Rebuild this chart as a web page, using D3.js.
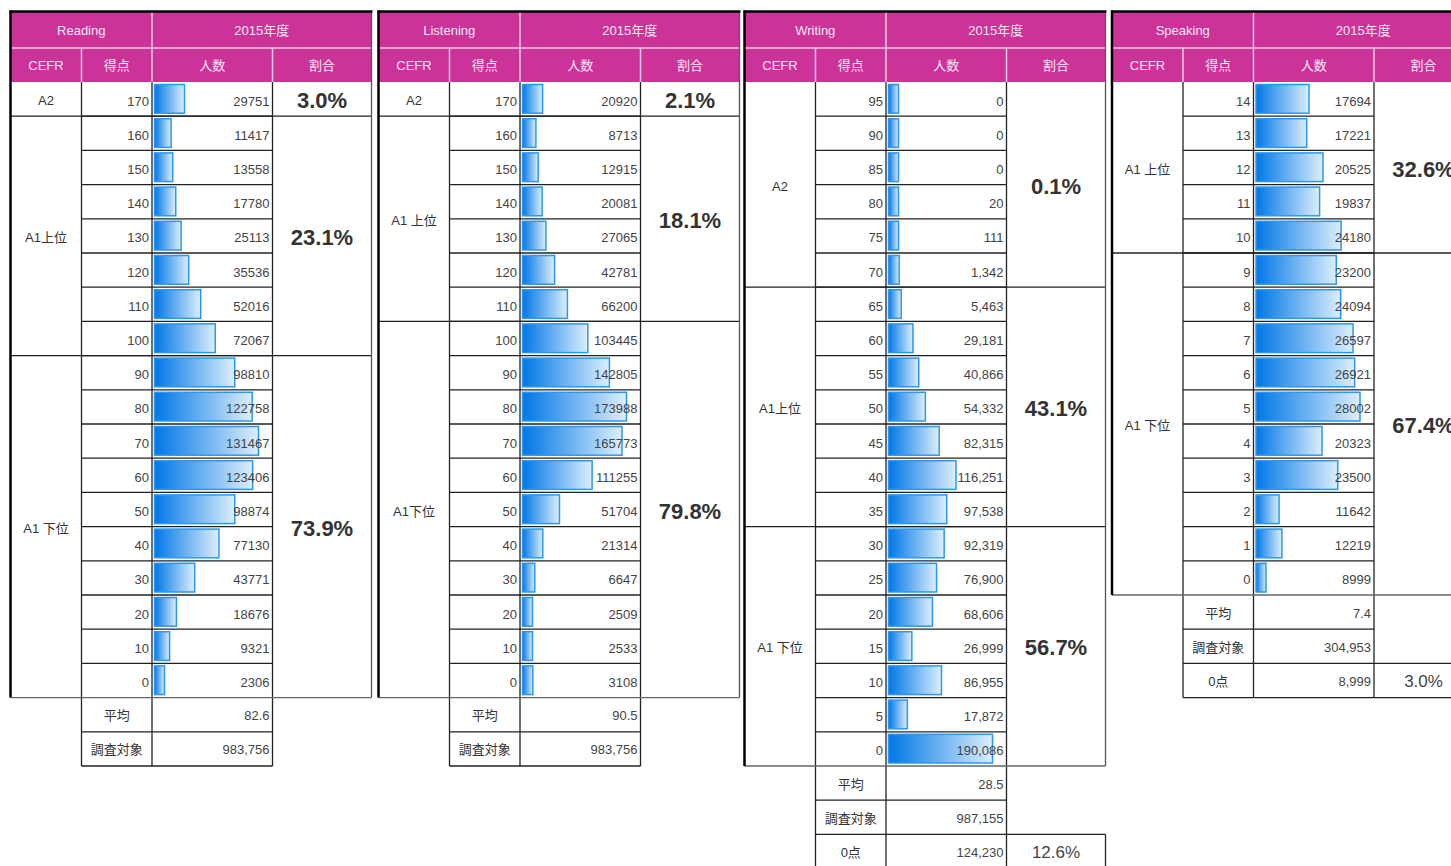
<!DOCTYPE html>
<html>
<head>
<meta charset="utf-8">
<script src="https://d3js.org/d3.v7.min.js"></script>
<style>
  body { margin: 0; background: white; }
  svg { display: block; background: white; }
</style>
</head>
<body>
<svg id="chart" width="1451" height="866"></svg>
<script>
const readingScores = [170, 160, 150, 140, 130, 120, 110, 100, 90, 80, 70, 60, 50, 40, 30, 20, 10, 0];
const readingCounts = [29751, 11417, 13558, 17780, 25113, 35536, 52016, 72067, 98810, 122758, 131467, 123406, 98874, 77130, 43771, 18676, 9321, 2306];
const readingCefr = ["A2", "A1上位", "A1 下位"];
const readingGroupRows = [1, 7, 10];
const readingShare = ["3.0%", "23.1%", "73.9%"];

const listeningScores = [170, 160, 150, 140, 130, 120, 110, 100, 90, 80, 70, 60, 50, 40, 30, 20, 10, 0];
const listeningCounts = [20920, 8713, 12915, 20081, 27065, 42781, 66200, 103445, 142805, 173988, 165773, 111255, 51704, 21314, 6647, 2509, 2533, 3108];
const listeningCefr = ["A2", "A1 上位", "A1下位"];
const listeningGroupRows = [1, 6, 11];
const listeningShare = ["2.1%", "18.1%", "79.8%"];

const writingScores = [95, 90, 85, 80, 75, 70, 65, 60, 55, 50, 45, 40, 35, 30, 25, 20, 15, 10, 5, 0];
const writingCounts = [0, 0, 0, 20, 111, 1342, 5463, 29181, 40866, 54332, 82315, 116251, 97538, 92319, 76900, 68606, 26999, 86955, 17872, 190086];
const writingCefr = ["A2", "A1上位", "A1 下位"];
const writingGroupRows = [6, 7, 7];
const writingShare = ["0.1%", "43.1%", "56.7%"];

const speakingScores = [14, 13, 12, 11, 10, 9, 8, 7, 6, 5, 4, 3, 2, 1, 0];
const speakingCounts = [17694, 17221, 20525, 19837, 24180, 23200, 24094, 26597, 26921, 28002, 20323, 23500, 11642, 12219, 8999];
const speakingCefr = ["A1 上位", "A1 下位"];
const speakingGroupRows = [5, 10];
const speakingShare = ["32.6%", "67.4%"];

// summary rows: [平均, 調査対象], optional 0点 [count, share]
const meanValues = ["82.6", "90.5", "28.5", "7.4"];
const totalValues = ["983,756", "983,756", "987,155", "304,953"];
const zeroRows = [null, null, ["124,230", "12.6%"], ["8,999", "3.0%"]];

const titles = ["Reading", "Listening", "Writing", "Speaking"];
const headYear = "2015年度";
const headCols = ["CEFR", "得点", "人数", "割合"];

const panels = [
  { title: titles[0], x0: 10.5, scores: readingScores, counts: readingCounts, cefr: readingCefr, groups: readingGroupRows, share: readingShare, comma: false },
  { title: titles[1], x0: 378.5, scores: listeningScores, counts: listeningCounts, cefr: listeningCefr, groups: listeningGroupRows, share: listeningShare, comma: false },
  { title: titles[2], x0: 744.5, scores: writingScores, counts: writingCounts, cefr: writingCefr, groups: writingGroupRows, share: writingShare, comma: true },
  { title: titles[3], x0: 1112, scores: speakingScores, counts: speakingCounts, cefr: speakingCefr, groups: speakingGroupRows, share: speakingShare, comma: false }
];
panels.forEach((p, i) => { p.mean = meanValues[i]; p.total = totalValues[i]; p.zero = zeroRows[i]; });

const svg = d3.select("#chart");
const pink = "#cc3399";
const numFont = "'Liberation Sans', Arial, sans-serif";
const jpFont = "'Liberation Sans', 'Noto Sans CJK JP', sans-serif";
const rowH = 34.2, tableTop = 82;
const cols = [0, 71, 141.5, 262, 361];

const defs = svg.append("defs");
const grad = defs.append("linearGradient").attr("id", "barGrad")
  .attr("x1", "0").attr("x2", "1").attr("y1", "0").attr("y2", "0");
grad.append("stop").attr("offset", "0").attr("stop-color", "#0077e6");
grad.append("stop").attr("offset", "1").attr("stop-color", "#dceefc");

function drawPanel(p) {
  const g = svg.append("g").attr("transform", `translate(${p.x0},0)`);
  const n = p.scores.length;
  const y = d3.scaleLinear().domain([0, n]).range([tableTop, tableTop + n * rowH]);
  const w = d3.scaleLinear().domain(d3.extent(p.counts)).range([10, 104]);
  const fmt = p.comma ? d3.format(",") : d3.format("d");
  const bottom = y(n);
  const nExtra = p.zero ? 3 : 2;

  // header
  g.append("rect").attr("x", 0).attr("y", 12).attr("width", cols[4]).attr("height", tableTop - 12).attr("fill", pink);
  const hl = "#f5c8e6";
  g.append("line").attr("x1", 0).attr("x2", cols[4]).attr("y1", 48).attr("y2", 48).attr("stroke", hl).attr("stroke-width", 1.5);
  g.append("line").attr("x1", cols[2]).attr("x2", cols[2]).attr("y1", 12).attr("y2", tableTop).attr("stroke", hl).attr("stroke-width", 1.5);
  [cols[1], cols[3]].forEach(cx => {
    g.append("line").attr("x1", cx).attr("x2", cx).attr("y1", 48).attr("y2", tableTop).attr("stroke", hl).attr("stroke-width", 1.5);
  });
  const headText = (txt, cx, cy) => g.append("text").attr("x", cx).attr("y", cy)
    .attr("text-anchor", "middle").attr("font-family", jpFont).attr("font-size", 13)
    .attr("fill", "#fbe8f4").text(txt);
  headText(p.title, (cols[0] + cols[2]) / 2, 35);
  headText(headYear, (cols[2] + cols[4]) / 2, 35);
  headCols.forEach((c, i) => headText(c, (cols[i] + cols[i + 1]) / 2, 70));

  // bars
  g.selectAll("rect.bar").data(p.counts).enter().append("rect")
    .attr("class", "bar")
    .attr("x", cols[2] + 2.5)
    .attr("y", (d, i) => y(i) + 2.5)
    .attr("width", d => w(d))
    .attr("height", rowH - 5.5)
    .attr("fill", "url(#barGrad)")
    .attr("stroke", "#2a98f2")
    .attr("stroke-width", 1.5);

  // row lines inside 得点/人数
  const gridCol = "#222";
  d3.range(1, n).forEach(i => {
    g.append("line").attr("x1", cols[1]).attr("x2", cols[3]).attr("y1", y(i)).attr("y2", y(i))
      .attr("stroke", gridCol).attr("stroke-width", 1.3);
  });
  // group boundaries across the full width
  let acc = 0;
  p.groups.forEach((k, gi) => {
    const y0 = y(acc), y1 = y(acc + k);
    if (acc > 0) {
      g.append("line").attr("x1", 0).attr("x2", cols[4]).attr("y1", y0).attr("y2", y0)
        .attr("stroke", gridCol).attr("stroke-width", 1.3);
    }
    const cy = (y0 + y1) / 2;
    g.append("text").attr("x", (cols[0] + cols[1]) / 2).attr("y", cy + 6)
      .attr("text-anchor", "middle").attr("font-family", jpFont).attr("font-size", 13)
      .attr("fill", "#333").text(p.cefr[gi]);
    g.append("text").attr("x", (cols[3] + cols[4]) / 2).attr("y", cy + 9)
      .attr("text-anchor", "middle").attr("font-family", numFont).attr("font-size", 22)
      .attr("font-weight", "bold").attr("fill", "#333").text(p.share[gi]);
    acc += k;
  });

  // vertical lines
  const extraBottom = y(n + nExtra);
  g.append("line").attr("x1", cols[1]).attr("x2", cols[1]).attr("y1", tableTop).attr("y2", extraBottom).attr("stroke", gridCol).attr("stroke-width", 1.3);
  g.append("line").attr("x1", cols[2]).attr("x2", cols[2]).attr("y1", tableTop).attr("y2", extraBottom).attr("stroke", gridCol).attr("stroke-width", 1.3);
  g.append("line").attr("x1", cols[3]).attr("x2", cols[3]).attr("y1", tableTop).attr("y2", extraBottom).attr("stroke", gridCol).attr("stroke-width", 1.3);
  g.append("line").attr("x1", cols[4]).attr("x2", cols[4]).attr("y1", 12).attr("y2", bottom).attr("stroke", "#555").attr("stroke-width", 1.3);

  // score and count text
  g.selectAll("text.score").data(p.scores).enter().append("text")
    .attr("class", "score").attr("x", cols[2] - 3).attr("y", (d, i) => y(i) + 23.5)
    .attr("text-anchor", "end").attr("font-family", numFont).attr("font-size", 13)
    .attr("fill", "#444").text(d => d);
  g.selectAll("text.count").data(p.counts).enter().append("text")
    .attr("class", "count").attr("x", cols[3] - 3).attr("y", (d, i) => y(i) + 23.5)
    .attr("text-anchor", "end").attr("font-family", numFont).attr("font-size", 13)
    .attr("fill", "#444").text(d => fmt(d));

  // summary rows
  const extras = [["平均", p.mean], ["調査対象", p.total]];
  if (p.zero) extras.push(["0点", p.zero[0]]);
  extras.forEach((e, k) => {
    const yb = y(n + k + 1);
    const full = p.zero && k >= 1;
    g.append("line").attr("x1", cols[1]).attr("x2", full ? cols[4] : cols[3]).attr("y1", yb).attr("y2", yb)
      .attr("stroke", gridCol).attr("stroke-width", 1.3);
    g.append("text").attr("x", (cols[1] + cols[2]) / 2).attr("y", y(n + k) + 22.5)
      .attr("text-anchor", "middle").attr("font-family", jpFont).attr("font-size", 13)
      .attr("fill", "#333").text(e[0]);
    g.append("text").attr("x", cols[3] - 3).attr("y", y(n + k) + 22.5)
      .attr("text-anchor", "end").attr("font-family", numFont).attr("font-size", 13)
      .attr("fill", "#444").text(e[1]);
  });
  if (p.zero) {
    const yz = y(n + 2);
    g.append("line").attr("x1", cols[4]).attr("x2", cols[4]).attr("y1", yz).attr("y2", y(n + 3))
      .attr("stroke", gridCol).attr("stroke-width", 1.3);
    g.append("text").attr("x", (cols[3] + cols[4]) / 2).attr("y", yz + 24)
      .attr("text-anchor", "middle").attr("font-family", numFont).attr("font-size", 17)
      .attr("fill", "#444").text(p.zero[1]);
  }

  // outer borders
  g.append("line").attr("x1", 0).attr("x2", cols[4]).attr("y1", bottom).attr("y2", bottom).attr("stroke", "#666").attr("stroke-width", 1.3);
  g.append("line").attr("x1", 0).attr("x2", 0).attr("y1", 10.5).attr("y2", bottom).attr("stroke", "#000").attr("stroke-width", 2.5);
  g.append("line").attr("x1", -1).attr("x2", cols[4] + 1).attr("y1", 11.5).attr("y2", 11.5).attr("stroke", "#000").attr("stroke-width", 2.5);
}

panels.forEach(drawPanel);
</script>
</body>
</html>
